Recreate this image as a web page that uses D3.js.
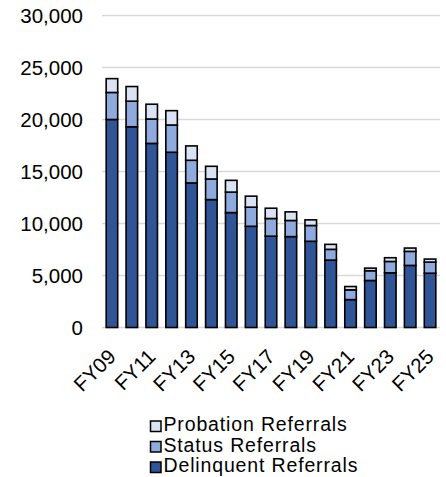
<!DOCTYPE html>
<html>
<head>
<meta charset="utf-8">
<script src="https://cdn.jsdelivr.net/npm/d3@7"></script>
<style>
  html, body { margin: 0; padding: 0; background: #ffffff; }
  svg { display: block; font-family: "Liberation Sans", Arial, sans-serif; }
</style>
</head>
<body>
<svg id="chart" width="446" height="477"></svg>
<script>
// Juvenile referrals by fiscal year
const years = ["FY09","FY10","FY11","FY12","FY13","FY14","FY15","FY16","FY17",
               "FY18","FY19","FY20","FY21","FY22","FY23","FY24","FY25"];
const delinquent = [20000, 19300, 17700, 16850, 13900, 12300, 11050, 9730, 8780,
                    8740, 8290, 6480, 2680, 4520, 5260, 5970, 5220];
const status     = [2600, 2460, 2350, 2620, 2180, 1980, 1970, 1840, 1700,
                    1550, 1520, 1035, 940, 940, 1090, 1350, 1070];
const probation  = [1330, 1410, 1420, 1380, 1380, 1220, 1130, 1060, 990,
                    830, 540, 480, 320, 250, 360, 320, 290];
const seriesNames = ["Delinquent Referrals", "Status Referrals", "Probation Referrals"];
const seriesColors = ["#2f5597", "#8faadc", "#dae3f3"];
const yTicks = [0, 5000, 10000, 15000, 20000, 25000, 30000];
const xLabelYears = ["FY09","FY11","FY13","FY15","FY17","FY19","FY21","FY23","FY25"];

const svg = d3.select("#chart");
const margin = { left: 102, right: 6, top: 15.5, bottom: 149.5 };
const W = 446, H = 477;

const x = d3.scaleBand()
  .domain(years)
  .range([margin.left, W - margin.right])
  .paddingInner(0.42)
  .paddingOuter(0.21);

const y = d3.scaleLinear()
  .domain([0, 30000])
  .range([H - margin.bottom, margin.top]);

// gridlines
svg.append("g")
  .selectAll("line")
  .data(yTicks)
  .join("line")
  .attr("x1", margin.left)
  .attr("x2", W - margin.right)
  .attr("y1", d => y(d))
  .attr("y2", d => y(d))
  .attr("stroke", "#d9d9d9")
  .attr("stroke-width", 1.5);

// y axis labels
const yAxis = d3.axisLeft(y).tickValues(yTicks).tickFormat(d3.format(",")).tickSize(0).tickPadding(0);
svg.append("g")
  .attr("transform", `translate(${margin.left - 19},0)`)
  .call(yAxis)
  .call(g => g.select(".domain").remove())
  .call(g => g.selectAll("text")
    .attr("font-size", 20.5)
    .attr("font-family", "Liberation Sans, Arial, sans-serif")
    .attr("fill", "#000")
    .attr("dy", "0.35em"));

// stacked bars
const table = years.map((yr, i) => ({
  year: yr,
  "Delinquent Referrals": delinquent[i],
  "Status Referrals": status[i],
  "Probation Referrals": probation[i]
}));
const stack = d3.stack().keys(seriesNames)(table);

svg.append("g")
  .selectAll("g")
  .data(stack)
  .join("g")
  .attr("fill", (d, i) => seriesColors[i])
  .selectAll("rect")
  .data(d => d)
  .join("rect")
  .attr("x", d => x(d.data.year))
  .attr("width", x.bandwidth())
  .attr("y", d => y(d[1]))
  .attr("height", d => y(d[0]) - y(d[1]))
  .attr("stroke", "#000")
  .attr("stroke-width", 1.6);

// x labels, rotated
svg.append("g")
  .selectAll("text")
  .data(xLabelYears)
  .join("text")
  .attr("transform", d => `translate(${x(d) + x.bandwidth() / 2 + 5},358) rotate(-45)`)
  .attr("text-anchor", "end")
  .attr("font-size", 20.5)
  .attr("fill", "#000")
  .text(d => d);

// legend
const legendItems = [
  { name: "Probation Referrals", color: seriesColors[2] },
  { name: "Status Referrals", color: seriesColors[1] },
  { name: "Delinquent Referrals", color: seriesColors[0] }
];
const legend = svg.append("g").attr("transform", "translate(150.5,421)");
const rows = legend.selectAll("g")
  .data(legendItems)
  .join("g")
  .attr("transform", (d, i) => `translate(0,${i * 20.5})`);
rows.append("rect")
  .attr("x", 0).attr("y", 0)
  .attr("width", 10.5).attr("height", 10.5)
  .attr("fill", d => d.color)
  .attr("stroke", "#000")
  .attr("stroke-width", 1.5);
rows.append("text")
  .attr("x", 13)
  .attr("y", 10)
  .attr("font-size", 19.5)
  .attr("letter-spacing", 0.85)
  .attr("fill", "#000")
  .text(d => d.name);
</script>
</body>
</html>
